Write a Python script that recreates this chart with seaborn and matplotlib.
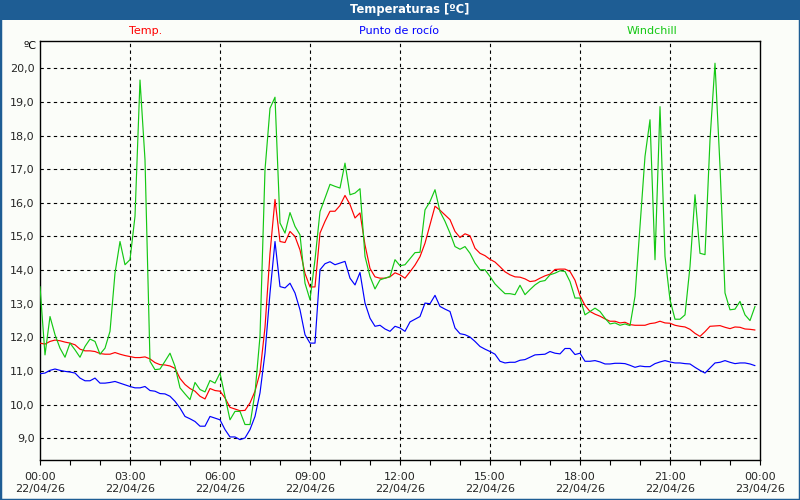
import numpy as np
import pandas as pd
import matplotlib
matplotlib.use("Agg")
import matplotlib.pyplot as plt
from matplotlib.patches import Rectangle
import seaborn as sns

# ---- data (10-minute samples, 22/04/26 00:00 .. 23:50) ----
minutes = np.arange(0, 1440, 10)

temp = [11.83, 11.80, 11.88, 11.92, 11.90, 11.86, 11.83, 11.78, 11.65, 11.60, 11.60, 11.58,
        11.52, 11.50, 11.50, 11.55, 11.50, 11.46, 11.43, 11.40, 11.40, 11.42, 11.36, 11.25,
        11.19, 11.18, 11.15, 11.08, 10.78, 10.60, 10.48, 10.40, 10.25, 10.17, 10.48, 10.42,
        10.40, 10.20, 9.92, 9.87, 9.82, 9.83, 10.05, 10.40, 10.95, 12.30, 14.50, 16.10,
        14.85, 14.82, 15.15, 15.00, 14.60, 13.90, 13.50, 13.50, 15.10, 15.45, 15.75, 15.75,
        15.92, 16.22, 15.95, 15.55, 15.70, 14.75, 14.05, 13.80, 13.76, 13.76, 13.80, 13.92,
        13.86, 13.76, 13.95, 14.15, 14.40, 14.80, 15.35, 15.90, 15.78, 15.64, 15.50, 15.15,
        14.97, 15.08, 15.02, 14.65, 14.50, 14.43, 14.32, 14.24, 14.10, 13.95, 13.86, 13.80,
        13.79, 13.74, 13.66, 13.68, 13.76, 13.83, 13.88, 14.02, 14.03, 14.03, 13.96, 13.70,
        13.24, 12.95, 12.77, 12.69, 12.63, 12.55, 12.48, 12.48, 12.43, 12.45, 12.38, 12.36,
        12.36, 12.36, 12.41, 12.43, 12.48, 12.43, 12.42, 12.36, 12.33, 12.31, 12.24, 12.12,
        12.03, 12.17, 12.33, 12.34, 12.35, 12.30, 12.26, 12.31, 12.30, 12.25, 12.24, 12.22]

dew = [10.92, 10.94, 11.02, 11.06, 11.02, 10.99, 10.97, 10.94, 10.79, 10.71, 10.71, 10.79,
       10.64, 10.64, 10.66, 10.69, 10.64, 10.59, 10.54, 10.50, 10.50, 10.54, 10.42, 10.40,
       10.33, 10.32, 10.25, 10.10, 9.90, 9.65, 9.58, 9.50, 9.36, 9.36, 9.65, 9.60,
       9.55, 9.26, 9.04, 9.04, 8.96, 9.01, 9.26, 9.65, 10.35, 11.53, 13.32, 14.85,
       13.51, 13.47, 13.61, 13.32, 12.82, 12.08, 11.83, 11.83, 14.01, 14.19, 14.25, 14.16,
       14.21, 14.26, 13.76, 13.56, 13.93, 13.02, 12.57, 12.33, 12.36, 12.25, 12.18, 12.33,
       12.28, 12.18, 12.46, 12.54, 12.62, 13.02, 13.00, 13.25, 12.92, 12.84, 12.77, 12.28,
       12.11, 12.08, 12.01, 11.88, 11.73, 11.65, 11.58, 11.50, 11.29, 11.24, 11.26, 11.26,
       11.32, 11.34, 11.41, 11.48, 11.49, 11.50, 11.58, 11.53, 11.51, 11.67, 11.67, 11.49,
       11.53, 11.29, 11.29, 11.31, 11.27, 11.21, 11.21, 11.23, 11.23, 11.22, 11.17, 11.11,
       11.15, 11.13, 11.13, 11.22, 11.27, 11.31, 11.27, 11.24, 11.24, 11.22, 11.21, 11.11,
       11.02, 10.94, 11.09, 11.24, 11.26, 11.31, 11.26, 11.22, 11.24, 11.24, 11.21, 11.16]

windchill = [13.51, 11.48, 12.62, 12.08, 11.68, 11.41, 11.83, 11.63, 11.41, 11.73, 11.95, 11.88,
             11.50, 11.68, 12.18, 13.91, 14.85, 14.16, 14.31, 15.60, 19.65, 17.28, 11.29, 11.04,
             11.06, 11.29, 11.53, 11.14, 10.50, 10.32, 10.15, 10.66, 10.45, 10.38, 10.72, 10.64,
             10.94, 10.25, 9.55, 9.80, 9.80, 9.41, 9.41, 10.35, 12.03, 16.98, 18.81, 19.14,
             15.40, 15.10, 15.71, 15.30, 15.05, 13.61, 13.12, 14.31, 15.74, 16.14, 16.55, 16.49,
             16.44, 17.18, 16.24, 16.29, 16.42, 14.41, 13.81, 13.44, 13.71, 13.76, 13.81, 14.31,
             14.13, 14.16, 14.34, 14.52, 14.53, 15.79, 16.04, 16.39, 15.74, 15.45, 15.10, 14.70,
             14.62, 14.70, 14.50, 14.21, 14.01, 14.01, 13.81, 13.59, 13.44, 13.30, 13.30, 13.27,
             13.55, 13.27, 13.42, 13.56, 13.66, 13.69, 13.86, 13.91, 13.98, 13.96, 13.66, 13.17,
             13.17, 12.67, 12.77, 12.87, 12.77, 12.57, 12.40, 12.43, 12.36, 12.40, 12.35, 13.22,
             15.30, 17.38, 18.47, 14.31, 18.86, 14.41, 13.12, 12.54, 12.54, 12.67, 14.11, 16.24,
             14.50, 14.46, 17.87, 20.15, 17.08, 13.32, 12.82, 12.84, 13.07, 12.67, 12.50, 12.92]

series_names = ["Temp.", "Punto de rocío", "Windchill"]
series_colors = ["#ff0000", "#0000ff", "#14c814"]

x_tick_minutes = [0, 180, 360, 540, 720, 900, 1080, 1260, 1440]
x_tick_labels = ["00:00\n22/04/26", "03:00\n22/04/26", "06:00\n22/04/26", "09:00\n22/04/26",
                 "12:00\n22/04/26", "15:00\n22/04/26", "18:00\n22/04/26", "21:00\n22/04/26",
                 "00:00\n23/04/26"]
y_ticks = [9, 10, 11, 12, 13, 14, 15, 16, 17, 18, 19, 20]

title = "Temperaturas [ºC]"
unit = "ºC"

# ---- styling ----
sns.set_style("white")
plt.rcParams["font.family"] = ["DejaVu Sans"]

BG = "#fbfdf9"
FRAME = "#1e5d94"

fig = plt.figure(figsize=(8, 5), dpi=100, facecolor=BG)
ax = fig.add_axes([40 / 800, 40 / 500, 720 / 800, 419.5 / 500])
ax.set_facecolor(BG)

df = pd.DataFrame({"min": np.concatenate([minutes] * 3),
                   "value": np.concatenate([temp, dew, windchill]),
                   "serie": np.repeat(series_names, len(minutes))})
sns.lineplot(data=df, x="min", y="value", hue="serie", hue_order=series_names,
             palette=series_colors, linewidth=0.85, legend=False, ax=ax, zorder=3)

ax.set_xlim(0, 1440)
ax.set_ylim(8.355, 20.826)
ax.set_xlabel("")
ax.set_ylabel("")

ax.set_yticks(y_ticks)
ax.set_yticklabels([f"{v:.1f}".replace(".", ",") for v in y_ticks])
ax.set_xticks(x_tick_minutes)
ax.set_xticklabels(x_tick_labels, linespacing=1.3)
ax.set_xticks(np.arange(0, 1441, 60), minor=True)

ax.tick_params(axis="x", which="both", direction="out", length=3.5, width=0.8,
               color="black", labelsize=8, pad=5, bottom=True)
ax.tick_params(axis="y", which="both", length=0, labelsize=8, pad=4, left=True)

for s in ax.spines.values():
    s.set_color("black")
    s.set_linewidth(1.0)

# grid
dash = (0, (3, 3))
for v in y_ticks:
    ax.axhline(v, color="black", lw=0.8, ls=dash, zorder=1)
for m in x_tick_minutes[1:-1]:
    ax.axvline(m, color="black", lw=0.8, ls=dash, zorder=1)

# frame & title bar
fig.patches.append(Rectangle((0, 0), 1, 1, transform=fig.transFigure, fill=False,
                             edgecolor=FRAME, linewidth=2.5, zorder=0))
fig.patches.append(Rectangle((0, 480 / 500), 1, 20 / 500, transform=fig.transFigure,
                             facecolor=FRAME, edgecolor="none", zorder=1))
fig.text(410 / 800, 1 - 10 / 500, title, color="white", fontsize=8.3, fontweight="bold",
         ha="center", va="center")

# legend labels
for name, col, xc in zip(series_names, series_colors, [146, 399, 652]):
    fig.text(xc / 800, 1 - 31 / 500, name, color=col, fontsize=8, ha="center", va="center")

fig.text(36 / 800, 1 - 46 / 500, unit, color="black", fontsize=8, ha="right", va="center")

fig.savefig("out.png", dpi=100, facecolor=BG)
